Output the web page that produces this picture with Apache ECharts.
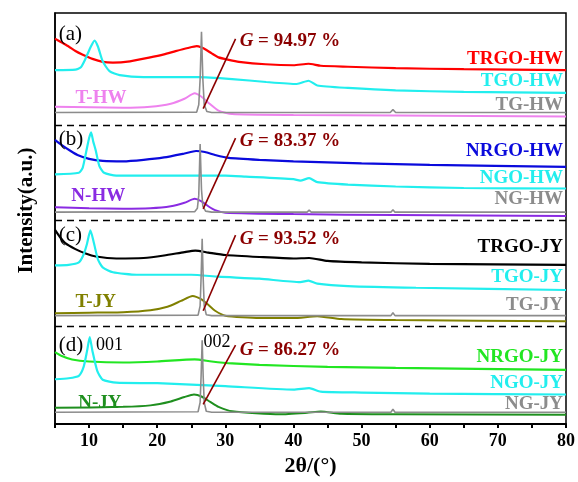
<!DOCTYPE html>
<html><head><meta charset="utf-8">
<script src="https://cdn.jsdelivr.net/npm/echarts@6/dist/echarts.min.js"></script>
<style>html,body{margin:0;padding:0;background:#fff}#c{width:578px;height:482px}</style>
</head><body><div id="c"></div><script>
// 2θ (°) vs stacked intensity (a.u., offsets included)
// ---- panel (a) ----
const trgoHW = [[5,391],[6,387],[7,383],[8,378.5],[9,375],[10.5,370.5],[12,367.5],[13.5,366.7],[16,368],[18.8,371.7],[21,375],[22.7,378.3],[24.5,381.5],[25.8,383.3],[26.5,382],[27.1,380],[28,376],[29,372],[30.5,369.5],[32,367.5],[35.9,365],[40,364],[42.2,365.5],[44,363.5],[48,362.5],[55,361],[65,360],[80,359]];
const tgoHW = [[5,359],[8,359.5],[8.8,362],[9.5,371],[10.2,382],[10.8,389],[11.3,383],[12,368],[13,358],[14.5,354],[18,352],[26,352],[31,350],[36,347],[40.5,345],[42.2,348.3],[43.5,343.5],[48,341],[55,338.5],[65,337],[80,336]];
const tgHW = [[5,316],[25.8,316.5],[26.1,324],[26.3,350],[26.5,398],[26.7,350],[26.9,324],[27.3,317],[28,316],[54.2,316],[54.6,319],[55,316],[80,316]];
const tHW = [[5,322],[15,321],[19,322],[22,325],[24,330],[25.5,335.5],[26.5,332],[27.5,326],[29,318],[31,314.5],[40,313.5],[55,313],[80,312]];
// ---- panel (b) ----
const nrgoHW = [[5,288.3],[6,283],[7.3,277],[8.3,273],[10,269],[12,267],[15,266.5],[18,268],[21,270.5],[24,274.5],[25.7,277],[27,276],[28.5,273],[30.5,270],[35,268],[40,266.5],[50,264.5],[60,263],[80,261]];
const ngoHW = [[5,253.3],[8.5,255],[9.06,260],[9.6,277],[10,290],[10.3,296],[10.6,287],[11,277],[11.5,262],[12.2,255],[14,252],[26,252],[30,252],[33,251],[40,248.5],[41,247],[42.3,249.5],[43.5,245.5],[48,243],[55,241],[65,239.5],[80,239]];
const ngHW = [[5,215],[25.5,215.5],[25.9,219],[26.1,232],[26.3,284],[26.5,238],[26.7,221],[27.1,216],[28,215],[42,215],[42.3,217],[42.6,215],[54.3,215],[54.6,217.5],[54.9,215],[80,215]];
const nHW = [[5,220],[10,219],[15,218.5],[19,219],[22,221],[24,224.5],[25.5,228.5],[26.5,226],[27.5,221],[28.5,217],[30,214.5],[40,213],[55,212],[80,211]];
// ---- panel (c) ----
const trgoJY = [[5,197],[5.7,190],[6.5,183.5],[8,177.5],[9.5,173],[11,170],[14,168],[18,168.5],[21,171],[24,174.5],[25.6,176],[27.5,174],[30,171.5],[35,169.5],[40,168],[42.3,168.5],[45,165.5],[50,164],[60,162.5],[80,161.5]];
const tgoJY = [[5,161],[7,161.5],[8.5,164],[9.2,172],[9.7,183],[10.2,196.5],[10.7,184],[11.3,167],[12,159],[13.5,154],[17,151.5],[25,151.5],[29,149.5],[35,147.5],[41,144],[42.2,145.5],[43.5,142.5],[48,140],[58,138.3],[80,136]];
const tgJY = [[5,110],[26,110.5],[26.3,120],[26.45,150],[26.6,188],[26.75,148],[26.9,120],[27.2,111],[28,110],[54.3,110],[54.6,113],[54.9,110],[80,110]];
const tJY = [[5,112.5],[10,113],[15,113.5],[19,115.5],[21.5,119],[23.5,125],[25.2,130],[26.5,126.5],[27.5,121],[28.5,115],[30,110],[35,107.5],[40,107.5],[43.5,109.5],[47,106.5],[55,105.5],[80,104.3]];
// ---- panel (d) ----
const nrgoJY = [[5,73],[6,69],[7.5,65.5],[10,63.5],[15,62.5],[20,63.5],[25.5,65.7],[28,63.5],[31,61.5],[35,60],[45,58],[55,57],[80,55]];
const ngoJY = [[5,45.5],[7,46.5],[8.5,49],[9.2,58],[9.7,74],[10.1,88.3],[10.5,74],[11.2,54],[12,45],[14,42],[20,41.5],[30,38.5],[40,35],[42.3,36.5],[44,33],[50,32],[60,31],[80,30]];
const ngJY = [[5,12],[26,12.5],[26.3,22],[26.45,50],[26.6,85],[26.75,48],[26.9,22],[27.2,13],[28,12],[54.3,12],[54.6,15],[54.9,12],[80,12]];
const nJY = [[5,16.5],[15,17.5],[19,19],[22,23],[24,27.5],[25.4,30],[26.5,28],[27.8,22.5],[29,17.5],[31,13],[38,10],[42,11.5],[44,12.7],[47,10.5],[55,10],[80,9.5]];

const gValues = ['94.97', '83.37', '93.52', '86.27'];
const panelLetters = ['(a)', '(b)', '(c)', '(d)'];
const xTicks = [10, 20, 30, 40, 50, 60, 70, 80];

const FONT = '"Liberation Serif","Times New Roman",serif';
const C = {red:'#FF0000', cyan:'#22EEEE', gray:'#8C8C8C', pink:'#EE82EE', blue:'#0A0ADC',
  violet:'#8A2BE2', black:'#000000', olive:'#808000', green:'#22E622', dgreen:'#1F8F1F', arrow:'#8B0000'};

// layout of annotations (in data coords)
const panels = [
  {rgo:['TRGO-HW',trgoHW,C.red], go:['TGO-HW',tgoHW], g:['TG-HW',tgHW], raw:['T-HW',tHW,C.pink],
   labY:[370,348.3,324], rawLab:[8.0,330.7], arrow:[320,390.7], gY:388.3, letterY:395},
  {rgo:['NRGO-HW',nrgoHW,C.blue], go:['NGO-HW',ngoHW], g:['NG-HW',ngHW], raw:['N-HW',nHW,C.violet],
   labY:[276.7,250,228.3], rawLab:[7.4,231.5], arrow:[218.3,290], gY:286.7, letterY:288.3},
  {rgo:['TRGO-JY',trgoJY,C.black], go:['TGO-JY',tgoJY], g:['TG-JY',tgJY], raw:['T-JY',tJY,C.olive],
   labY:[179.3,149.3,120.7], rawLab:[8.0,123.3], arrow:[115,191.7], gY:187.3, letterY:191.7},
  {rgo:['NRGO-JY',nrgoJY,C.green], go:['NGO-JY',ngoJY], g:['NG-JY',ngJY], raw:['N-JY',nJY,C.dgreen],
   labY:[68.3,41.7,20], rawLab:[8.4,21.5], arrow:[20,80], gY:75, letterY:80}
];
const dividers = [99.7, 206.7, 303.3];

function txt(text, coord, color, align, size, weight, rich) {
  const o = {coord, symbol:'rect', symbolSize:1, itemStyle:{color:'rgba(0,0,0,0)'},
    label:{show:true, position:'inside', formatter:text, align, verticalAlign:'middle',
      color, fontSize:size, fontWeight:weight, fontFamily:FONT}};
  if (rich) o.label.rich = rich;
  return o;
}
const lineS = (name, data, color, width, smooth) => ({
  type:'line', name, data, showSymbol:false, smooth: smooth ? 0.2 : false,
  lineStyle:{color, width}, itemStyle:{color}, z:2, silent:true, animation:false
});

const series = [];
const RX = 79.57;
panels.forEach((p, i) => {
  series.push(lineS(p.rgo[0], p.rgo[1], p.rgo[2], 2.2, true));
  series.push(lineS(p.go[0], p.go[1], C.cyan, 2.2, true));
  series.push(lineS(p.raw[0], p.raw[1], p.raw[2], 2, true));
  const g = lineS(p.g[0], p.g[1], C.gray, 1.6, false);
  g.z = 3;
  g.markPoint = {silent:true, animation:false, data:[
    txt(p.rgo[0], [RX, p.labY[0]], p.rgo[2], 'right', 19, 'bold'),
    txt(p.go[0], [RX, p.labY[1]], C.cyan, 'right', 19, 'bold'),
    txt(p.g[0], [RX, p.labY[2]], C.gray, 'right', 19, 'bold'),
    txt(p.raw[0], [p.rawLab[0], p.rawLab[1]], p.raw[2], 'left', 19, 'bold'),
    txt(panelLetters[i], [5.55, p.letterY], '#000', 'left', 21, 'normal'),
    txt('{gi|G}{gt| = ' + gValues[i] + ' %}', [32.1, p.gY], C.arrow, 'left', 19, 'bold',
      {gi:{fontStyle:'italic', fontWeight:'bold', fontSize:19, fontFamily:FONT, color:C.arrow},
       gt:{fontWeight:'bold', fontSize:19, fontFamily:FONT, color:C.arrow}})
  ].concat(i === 3 ? [
    txt('001', [11.0, 80], '#000', 'left', 18, 'normal'),
    txt('002', [26.8, 83], '#000', 'left', 18, 'normal')
  ] : [])};
  g.markLine = {silent:true, animation:false, symbol:['none','arrow'], symbolSize:[0,10],
    label:{show:false}, lineStyle:{color:C.arrow, width:1.6, type:'solid'},
    data:[[{coord:[26.75, p.arrow[0]]},{coord:[31.5, p.arrow[1]]}]]};
  series.push(g);
});
series.push({type:'line', data:[], silent:true, animation:false,
  markLine:{silent:true, animation:false, symbol:['none','none'], label:{show:false},
    lineStyle:{color:'#000', width:1.4, type:[7,5]},
    data: dividers.map(v => ({yAxis:v}))}});

const chart = echarts.init(document.getElementById('c'), null, {renderer:'canvas'});
chart.setOption({
  animation:false,
  backgroundColor:'#fff',
  grid:{left:55, right:9, top:13, bottom:52, show:true, borderColor:'#000', borderWidth:1.5, backgroundColor:'transparent'},
  xAxis:{type:'value', min:5, max:80, interval:5,
    name:'2θ/(°)', nameLocation:'middle', nameGap:30,
    nameTextStyle:{fontFamily:FONT, fontWeight:'bold', fontSize:22, color:'#000'},
    axisLine:{show:true, onZero:false, lineStyle:{color:'#000', width:2}},
    axisTick:{show:true, length:4, lineStyle:{color:'#000', width:2}},
    axisLabel:{margin:8, fontFamily:FONT, fontWeight:'bold', fontSize:18, color:'#000',
      formatter:v => xTicks.includes(v) ? String(v) : ''},
    splitLine:{show:false}},
  yAxis:{type:'value', min:0, max:417,
    name:'Intensity(a.u.)', nameLocation:'middle', nameGap:18,
    nameTextStyle:{fontFamily:FONT, fontWeight:'bold', fontSize:21, color:'#000', padding:[0,0,0,16]},
    axisLine:{show:true, lineStyle:{color:'#000', width:1.5}}, axisTick:{show:false},
    axisLabel:{show:false}, splitLine:{show:false}},
  series
});
</script></body></html>
